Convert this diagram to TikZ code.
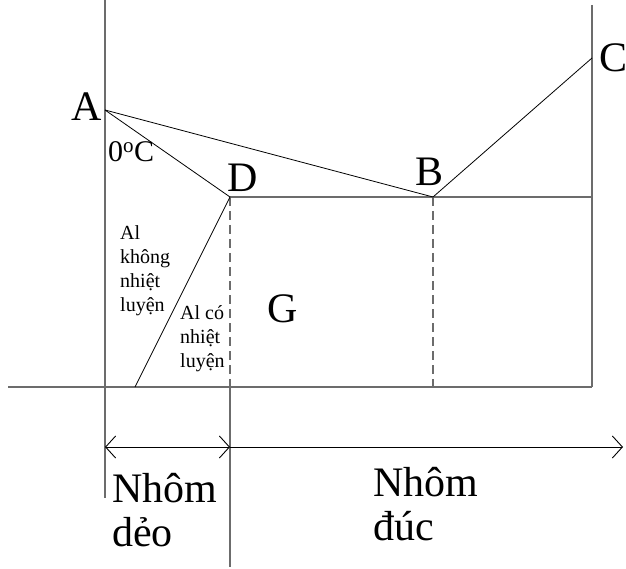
\documentclass[tikz,border=0pt]{standalone}
\usepackage{fontspec}
\setmainfont{Liberation Serif}
\usetikzlibrary{arrows.meta,positioning}
\tikzset{
  axis/.style={draw=gray!85!black, line width=1.3pt},
  curve/.style={draw=black, line width=0.8pt},
  guide/.style={draw=gray!85!black, line width=1.2pt, dash pattern=on 9pt off 5pt},
  span/.style={draw=black, line width=0.9pt},
  big/.style={font=\fontsize{42}{44}\selectfont, inner sep=0pt, align=left},
  small/.style={font=\fontsize{20}{24}\selectfont, inner sep=0pt, align=left},
  >={Straight Barb[length=10pt,width=22pt]},
}

\begin{document}
\begin{tikzpicture}[x=1pt,y=-1pt]
\useasboundingbox (0,0) rectangle (626,569);
% points of the diagram
\coordinate (A) at (105,110);
\coordinate (D) at (230,197);
\coordinate (B) at (433,197);
\coordinate (C) at (592,58);
\coordinate (E) at (592,197);
\coordinate (F) at (135,387);
\coordinate (Dbot) at (230,387);
\coordinate (Bbot) at (433,387);
\coordinate (Dend) at (230,567);
\coordinate (Atop) at (105,0);
\coordinate (Aend) at (105,498);
\coordinate (Ctop) at (592,5);
\coordinate (Cbot) at (592,387);
\coordinate (Lend) at (8,387);
\coordinate (Pl) at (105,447);
\coordinate (Pm) at (230,447);
\coordinate (Pr) at (623,447);

% axes and frame
\draw[axis] (Atop) -- (Aend);
\draw[axis] (Ctop) -- (Cbot);
\draw[axis] (Lend) -- (Cbot);
\draw[axis] (D) -- (E);
\draw[axis] (Dbot) -- (Dend);
\draw[guide] (D) -- (Dbot);
\draw[guide] (B) -- (Bbot);

% phase lines
\draw[curve] (A) -- (B) -- (C);
\draw[curve] (A) -- (D) -- (F);

% ranges
\draw[span,<->] (Pl) -- (Pm);
\draw[span,->] (Pm) -- (Pr);

% labels
\node[big, anchor=base] (lA) at (87,121) {A};
\node[big, anchor=base] (lC) at (613,72) {C};
\node[big, anchor=base] (lB) at (430,186) {B};
\node[big, anchor=base] (lD) at (243,192) {D};
\node[big, anchor=base] (lG) at (283,322) {G};
\node[font=\fontsize{30}{30}\selectfont, inner sep=0pt, anchor=base west] (lT) at (108,162) {0\textsuperscript{o}C};
\node[small, anchor=north west] (lK) at (120,225) {Al\\không\\nhiệt\\luyện};
\node[small, anchor=north west] (lN) at (180,305) {Al có\\nhiệt\\luyện};
\node[big, anchor=north west] (lDeo) at (112,473) {Nhôm\\dẻo};
\node[big, anchor=north west] (lDuc) at (373,467) {Nhôm\\đúc};
\end{tikzpicture}
\end{document}
